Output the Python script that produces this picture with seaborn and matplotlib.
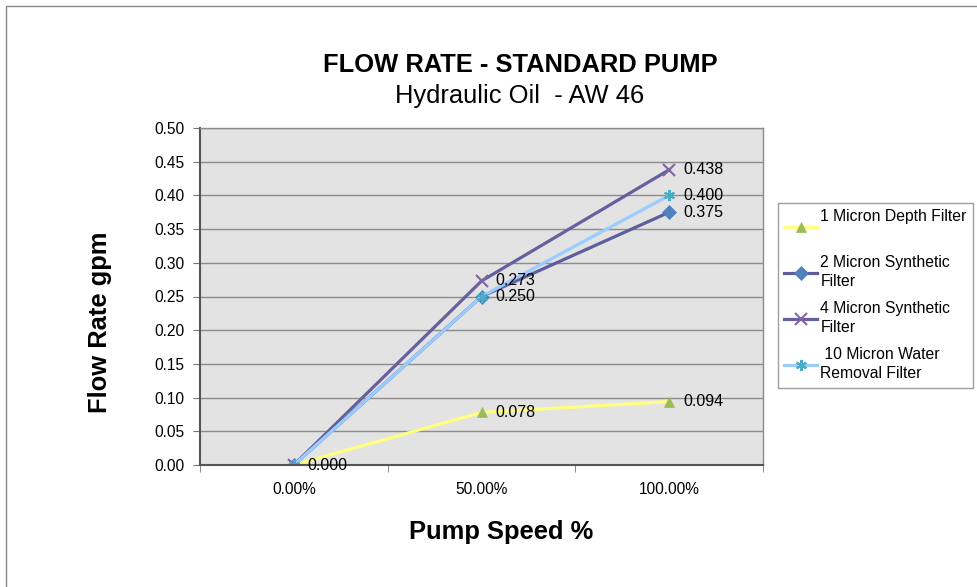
import pandas as pd
import matplotlib.pyplot as plt
from matplotlib.lines import Line2D
from matplotlib.patches import Rectangle
import seaborn as sns

# chart values
speeds = ['0.00%', '50.00%', '100.00%']
filters = ['1 Micron Depth Filter\n', '2 Micron Synthetic\nFilter',
           '4 Micron Synthetic\nFilter', ' 10 Micron Water\nRemoval Filter']
micron_1 = [0.000, 0.078, 0.094]
micron_2 = [0.000, 0.250, 0.375]
micron_4 = [0.000, 0.273, 0.438]
micron_10 = [0.000, 0.250, 0.400]
y_ticks = [0.00, 0.05, 0.10, 0.15, 0.20, 0.25, 0.30, 0.35, 0.40, 0.45, 0.50]

line_colors = ['#FFFF80', '#5F5D9B', '#66609E', '#99CCFF']
marker_colors = ['#9BBB59', '#4F81BD', '#8064A2', '#4BACC6']
marker_shapes = ['^', 'D', 'x', (6, 2, 0)]

plt.rcParams['font.family'] = ['Liberation Sans', 'DejaVu Sans']

# long form table for seaborn
rows = []
for name, vals in zip(filters, [micron_1, micron_2, micron_4, micron_10]):
    for sp, v in zip(speeds, vals):
        rows.append({'speed': sp, 'rate': v, 'filter': name})
df = pd.DataFrame(rows)

fig = plt.figure(figsize=(9.77, 5.87), dpi=100)
ax = fig.add_axes([200 / 977, 1 - 465 / 587, 563 / 977, 337 / 587])
ax.set_facecolor('#E3E3E3')

sns.lineplot(data=df, x='speed', y='rate', hue='filter',
             palette=dict(zip(filters, line_colors)),
             linewidth=2.3, sort=False, legend=False, ax=ax)


def is_line_art(m):
    return m in ('x', (6, 2, 0))


# markers: mixed shapes and a colour that differs from the line
for line, mc, m in zip(ax.lines, marker_colors, marker_shapes):
    line.set_marker(m)
    line.set_markersize(8 if is_line_art(m) else 7.5)
    line.set_markerfacecolor(mc)
    line.set_markeredgecolor(mc)
    line.set_markeredgewidth(1.5 if is_line_art(m) else 0.5)

# data labels (coincident labels drawn once)
for _, r in df.drop_duplicates(['speed', 'rate']).iterrows():
    ax.annotate('%.3f' % r['rate'], (r['speed'], r['rate']), xytext=(10, 0),
                textcoords='offset points', ha='left', va='center',
                fontsize=11.5)

ax.set_xlim(-0.5, 2.5)
ax.set_ylim(0, 0.5)
ax.set_yticks(y_ticks)
ax.set_yticklabels(['%.2f' % t for t in y_ticks])
ax.set_xticks(range(len(speeds)))
ax.set_xticklabels(speeds)
ax.set_xticks([-0.5, 0.5, 1.5, 2.5], minor=True)
ax.tick_params(axis='x', which='major', length=0, pad=12, labelsize=11.2)
ax.tick_params(axis='x', which='minor', length=5, color='#777777', direction='out')
ax.tick_params(axis='y', length=5, color='#777777', pad=6, labelsize=11.2)

ax.yaxis.grid(True, color='#8C8C8C', linewidth=1)
ax.xaxis.grid(False)
ax.set_axisbelow(True)
for side in ['left', 'bottom']:
    ax.spines[side].set_color('#555555')
    ax.spines[side].set_linewidth(1.5)
for side in ['top', 'right']:
    ax.spines[side].set_color('#8C8C8C')
    ax.spines[side].set_linewidth(1)

ax.set_xlabel('Pump Speed %', fontsize=18.4, fontweight='bold', va='center')
ax.xaxis.set_label_coords((501 - 200) / 563, -(532 - 465) / 337)
ax.set_ylabel('Flow Rate gpm', fontsize=18.4, fontweight='bold', va='center')
ax.yaxis.set_label_coords((100 - 200) / 563, (465 - 322) / 337)

fig.text(520 / 977, 1 - 65 / 587, 'FLOW RATE - STANDARD PUMP', ha='center',
         va='center', fontsize=18.4, fontweight='bold')
fig.text(520 / 977, 1 - 96 / 587, 'Hydraulic Oil  - AW 46', ha='center',
         va='center', fontsize=18.4)

handles = [Line2D([], [], color=lc, lw=2.3, marker=m,
                  markersize=8 if is_line_art(m) else 7.5,
                  markerfacecolor=mc, markeredgecolor=mc,
                  markeredgewidth=1.5 if is_line_art(m) else 0.5)
           for lc, mc, m in zip(line_colors, marker_colors, marker_shapes)]
leg = fig.legend(handles, filters, loc='upper left',
                 bbox_to_anchor=(778 / 977, 1 - 203 / 587), fontsize=11.3,
                 frameon=True, fancybox=False, edgecolor='#888888',
                 handlelength=2.1, handletextpad=0.2, borderpad=0.4,
                 labelspacing=0.75, borderaxespad=0)
leg.get_frame().set_linewidth(1)
for t in leg.get_texts():
    t.set_linespacing(1.35)

# outer chart border
fig.add_artist(Rectangle((6 / 977, -0.1), 1.2, 1.1 - 6 / 587,
                         transform=fig.transFigure, fill=False,
                         edgecolor='#888888', linewidth=1))

fig.savefig('out.png', dpi=100)
